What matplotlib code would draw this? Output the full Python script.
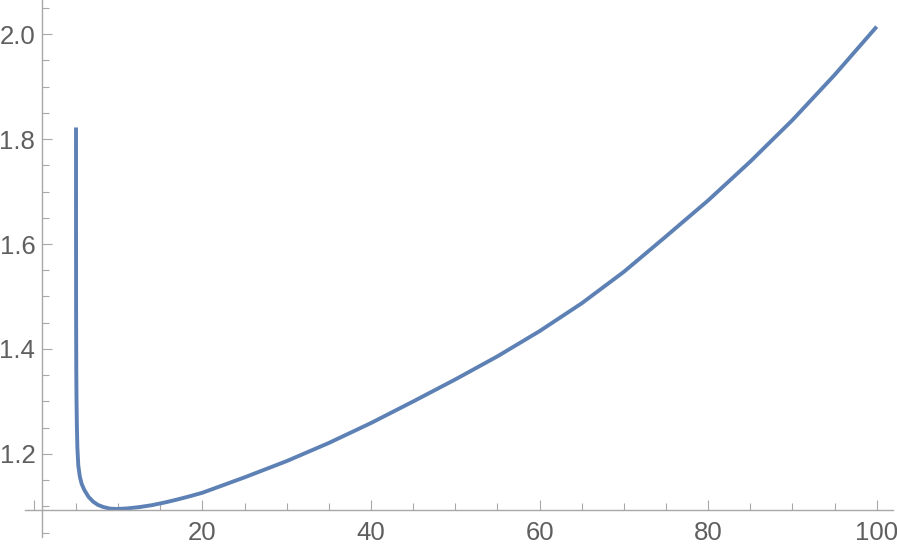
import numpy as np
import matplotlib
matplotlib.use("Agg")
import matplotlib.pyplot as plt
from matplotlib.ticker import FixedLocator

# curve values
x_vals = [5.0, 5.002, 5.01, 5.03, 5.06, 5.1, 5.16, 5.27, 5.45, 5.67, 6.0, 6.5,
          7.05, 7.6, 8.24, 9.0, 9.8, 11.0, 12.5, 14.0, 15.5, 17.0, 18.5,
          20, 25, 30, 35, 40, 45, 50, 55, 60, 65, 70, 75, 80, 85, 90, 95, 100]
y_vals = [1.822, 1.62, 1.47, 1.36, 1.30, 1.255, 1.212, 1.178, 1.157, 1.143, 1.131, 1.118,
          1.109, 1.103, 1.099, 1.096, 1.0952, 1.0962, 1.0988, 1.1025, 1.1075, 1.1132, 1.1195,
          1.1262, 1.1555, 1.1865, 1.221, 1.259, 1.300, 1.342, 1.386, 1.434, 1.487, 1.547,
          1.6145, 1.683, 1.757, 1.836, 1.922, 2.014]

x_major = [0, 20, 40, 60, 80, 100]
x_labels = ["", "20", "40", "60", "80", "100"]
x_minor = [v for v in range(5, 100, 5) if v % 20 != 0]
y_major = [1.2, 1.4, 1.6, 1.8, 2.0]
y_labels = ["1.2", "1.4", "1.6", "1.8", "2.0"]
y_minor = [1.05, 1.1, 1.15, 1.25, 1.3, 1.35, 1.45, 1.5, 1.55, 1.65, 1.7, 1.75,
           1.85, 1.9, 1.95, 2.05]

axis_col = "#a8a8a8"
text_col = "#5f5f5f"

fig = plt.figure(figsize=(8.97, 5.51), dpi=100)
ax = fig.add_axes([0, 0, 1, 1])
ax.plot(x_vals, y_vals, color="#5e81b5", lw=2.8, solid_capstyle="butt",
        solid_joinstyle="round")

ax.set_xlim(-4.02, 102.41)
ax.set_ylim(1.0152, 2.0648)

for s in ["top", "right"]:
    ax.spines[s].set_visible(False)
ax.spines["left"].set_position(("data", 1.0))
ax.spines["bottom"].set_position(("data", 1.0928))
ax.spines["left"].set_bounds(1.0425, 2.0648)
ax.spines["bottom"].set_bounds(-1.05, 101.94)
for s in ["left", "bottom"]:
    ax.spines[s].set_color(axis_col)
    ax.spines[s].set_linewidth(1.0)

ax.xaxis.set_major_locator(FixedLocator(x_major))
ax.set_xticklabels(x_labels)
ax.xaxis.set_minor_locator(FixedLocator(x_minor))
ax.yaxis.set_major_locator(FixedLocator(y_major))
ax.set_yticklabels(y_labels)
ax.yaxis.set_minor_locator(FixedLocator(y_minor))

ax.tick_params(which="major", direction="in", length=7.2, width=0.8, color=axis_col,
               labelsize=18.5, labelcolor=text_col)
ax.tick_params(which="minor", direction="in", length=4.8, width=0.8, color=axis_col)
ax.tick_params(axis="x", which="major", pad=8)
ax.tick_params(axis="y", which="major", pad=5)
for lab in ax.get_xticklabels() + ax.get_yticklabels():
    lab.set_fontfamily("Liberation Sans")

fig.savefig("out.png", dpi=100)
